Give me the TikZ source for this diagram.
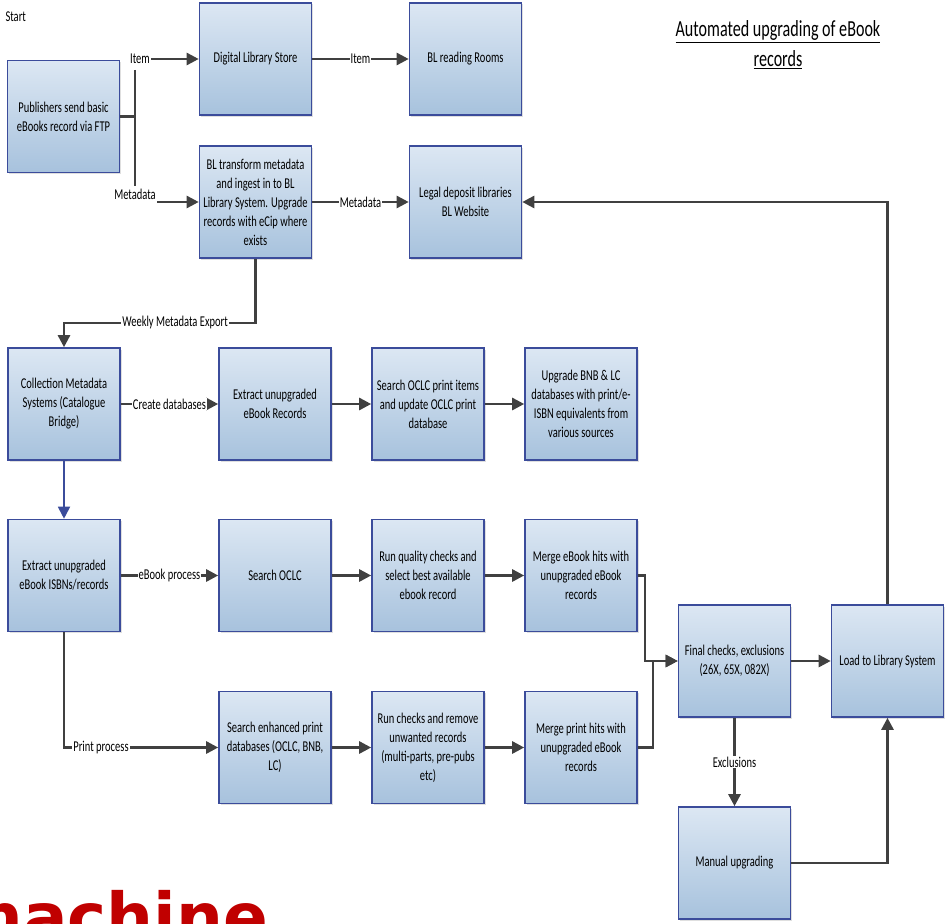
\documentclass[tikz,border=0pt]{standalone}
\usepackage{fontspec}
\setmainfont{Carlito}[FakeStretch=0.7]
\newfontfamily\redfont{DejaVu Sans}
\usetikzlibrary{arrows.meta,shadows}
\definecolor{boxtop}{HTML}{DCE7F3}
\definecolor{boxbot}{HTML}{A7C2DD}
\definecolor{boxline}{HTML}{3B4C9B}
\definecolor{linegray}{HTML}{404040}
\definecolor{redtxt}{HTML}{C00000}

\begin{document}
\begin{tikzpicture}[x=1pt, y=-1pt,
    box/.style={draw=boxline, line width=1.6pt, top color=boxtop, bottom color=boxbot,
        minimum width=112pt, minimum height=112pt, align=center, inner sep=2pt,
        drop shadow={opacity=0.25, shadow xshift=1.5pt, shadow yshift=-1.5pt},
        font=\fontsize{15}{19}\selectfont},
    arr/.style={draw=linegray, line width=2.6pt, -{Triangle[length=12pt,width=12pt]}},
    lbl/.style={fill=white, inner sep=1pt, font=\fontsize{15}{19}\selectfont}]
    \useasboundingbox (0, 0) rectangle (949, 923);
    \clip (0, 0) rectangle (949, 923);
    \node[box] (pub) at (63.5, 116.5) {Publishers send basic\\eBooks record via FTP};
    \node[box] (dls) at (255.5, 59) {Digital Library Store};
    \node[box] (blr) at (465.5, 59) {BL reading Rooms};
    \node[box] (blt) at (255.5, 202) {BL transform metadata\\and ingest in to BL\\Library System. Upgrade\\records with eCip where\\exists};
    \node[box] (ldl) at (465.5, 202) {Legal deposit libraries\\BL Website};
    \node[box] (cms) at (64, 404) {Collection Metadata\\Systems (Catalogue\\Bridge)};
    \node[box] (eer) at (275, 404) {Extract unupgraded\\eBook Records};
    \node[box] (sop) at (428, 404) {Search OCLC print items\\and update OCLC print\\database};
    \node[box] (ubl) at (581, 404) {Upgrade BNB \& LC\\databases with print/e-\\ISBN equivalents from\\various sources};
    \node[box] (eis) at (64, 575.5) {Extract unupgraded\\eBook ISBNs/records};
    \node[box] (so) at (275, 575.5) {Search OCLC};
    \node[box] (rq) at (428, 575.5) {Run quality checks and\\select best available\\ebook record};
    \node[box] (meb) at (581, 575.5) {Merge eBook hits with\\unupgraded eBook\\records};
    \node[box] (sep) at (275, 747.5) {Search enhanced print\\databases (OCLC, BNB,\\LC)};
    \node[box] (rc) at (428, 747.5) {Run checks and remove\\unwanted records\\(multi-parts, pre-pubs\\etc)};
    \node[box] (mpr) at (581, 747.5) {Merge print hits with\\unupgraded eBook\\records};
    \node[box] (fin) at (734.5, 661) {Final checks, exclusions\\(26X, 65X, 082X)};
    \node[box] (load) at (887.5, 661) {Load to Library System};
    \node[box] (man) at (734.5, 863) {Manual upgrading};
    \node[anchor=west, font=\fontsize{15}{17}\selectfont] (start) at (2, 17) {Start};
    \node[align=center, font=\fontsize{23}{30}\selectfont] (title) at (778, 45) {\underline{Automated upgrading of eBook}\\\underline{records}};
    \node[lbl] (itm) at (140, 59) {Item};
    \node[lbl] (mdt) at (135, 194) {Metadata};
    \node[anchor=base west, text=redtxt, font=\redfont\bfseries\fontsize{66}{70}\selectfont] (mach) at (-49, 940) {machine};
    \coordinate (bustop) at (135, 70);
    \coordinate (busbot) at (135, 186);
    \coordinate (mds) at (157, 202);
    \draw[linegray, line width=2.6pt] (bustop) -- (busbot);
    \draw[linegray, line width=2.6pt] (pub.east) -- (pub.east -| bustop);
    \draw[arr] (itm.east) -- (dls);
    \draw[arr] (mds) -- (blt);
    \draw[arr] (dls) -- node[lbl] {Item} (blr);
    \draw[arr] (blt) -- node[lbl] {Metadata} (ldl);
    \draw[arr] (load.north) |- (ldl.east);
    \draw[arr] (blt.south) -- ++(0, 64) -| node[lbl, pos=0.21] {Weekly Metadata Export} (cms.north);
    \draw[arr] (cms) -- node[lbl] {Create databases} (eer);
    \draw[arr] (eer) -- (sop);
    \draw[arr] (sop) -- (ubl);
    \draw[arr, draw=boxline, line width=1.8pt] (cms) -- (eis);
    \draw[arr] (eis) -- node[lbl] {eBook process} (so);
    \draw[arr] (eis.south) |- node[lbl, pos=0.62] {Print process} (sep.west);
    \draw[arr] (so) -- (rq);
    \draw[arr] (rq) -- (meb);
    \draw[arr] (sep) -- (rc);
    \draw[arr] (rc) -- (mpr);
    \draw[arr] (meb.east) -- ++(7, 0) |- (fin.west);
    \draw[arr] (mpr.east) -- ++(15, 0) |- (fin.west);
    \draw[arr] (fin) -- (load);
    \draw[arr] (fin) -- node[lbl] {Exclusions} (man);
    \draw[arr] (man.east) -| (load.south);
\end{tikzpicture}
\end{document}
